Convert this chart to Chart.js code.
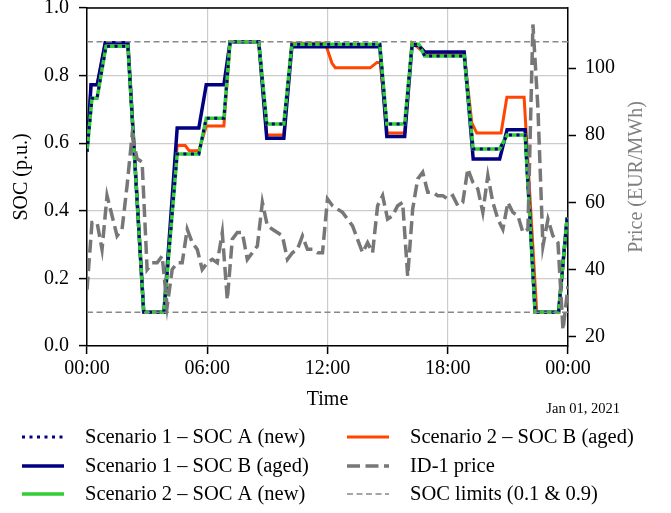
<!DOCTYPE html>
<html>
<head>
<meta charset="utf-8">
<script src="https://cdn.jsdelivr.net/npm/chart.js@4.4.0/dist/chart.umd.min.js"></script>
<style>
  body { margin: 0; background: #fff; }
  #wrap { position: relative; width: 671px; height: 513px; }
</style>
</head>
<body>
<div id="wrap"><canvas id="chart"></canvas></div>
<script>
const FONT = "'Liberation Serif', 'Times New Roman', serif";

// x axis is hours after midnight, Jan 01 2021
const xTickValues = [0, 6, 12, 18, 24];
const xTickLabels = ["00:00", "06:00", "12:00", "18:00", "00:00"];
const socTicks = [0, 0.2, 0.4, 0.6, 0.8, 1.0];
const priceTicks = [20, 40, 60, 80, 100];
const dateLabel = "Jan 01, 2021";

const socLimits = [0.1, 0.9];

// SOC A (new) - same path in scenario 1 and 2
const socATimes = [0, 0.25, 0.5, 0.95, 2.04, 2.83, 3.84, 4.5, 5.58, 5.95, 6.83, 7.14, 8.57, 8.97, 9.82, 10.22,
  14.61, 14.96, 15.85, 16.22, 16.55, 16.85, 18.82, 19.27, 20.59, 20.96, 21.86, 22.36, 23.53, 23.95, 24];
const socAValues = [0.575, 0.733, 0.733, 0.887, 0.887, 0.1, 0.1, 0.568, 0.568, 0.674, 0.674, 0.9, 0.9, 0.657, 0.657, 0.893,
  0.893, 0.657, 0.657, 0.893, 0.893, 0.858, 0.858, 0.583, 0.583, 0.624, 0.624, 0.1, 0.1, 0.375, 0.375];

// Scenario 1 - SOC B (aged)
const s1BTimes = [0, 0.2, 0.51, 0.91, 2.04, 2.83, 3.84, 4.5, 5.58, 5.95, 6.83, 7.14, 8.57, 8.97, 9.82, 10.22,
  14.61, 14.96, 15.85, 16.22, 16.55, 16.85, 18.82, 19.27, 20.59, 20.96, 21.86, 22.36, 23.53, 23.95, 24];
const s1BValues = [0.575, 0.773, 0.773, 0.897, 0.897, 0.1, 0.1, 0.645, 0.645, 0.773, 0.773, 0.9, 0.9, 0.615, 0.615, 0.885,
  0.885, 0.62, 0.62, 0.89, 0.89, 0.87, 0.87, 0.553, 0.553, 0.64, 0.64, 0.1, 0.1, 0.375, 0.375];

// Scenario 2 - SOC B (aged)
const s2BTimes = [0, 0.2, 0.51, 0.91, 2.04, 2.83, 3.84, 4.5, 4.9, 5.1, 5.58, 5.95, 6.83, 7.14, 8.57, 8.97, 9.82, 10.22,
  11.89, 12.22, 12.39, 14.13, 14.47, 14.63, 14.98, 15.85, 16.22, 16.9, 18.82, 19.2, 19.45, 20.66, 20.95, 21.81,
  22.44, 23.53, 23.95, 24];
const s2BValues = [0.575, 0.773, 0.773, 0.897, 0.897, 0.1, 0.1, 0.593, 0.593, 0.578, 0.578, 0.651, 0.651, 0.9, 0.9, 0.624, 0.624, 0.896,
  0.896, 0.837, 0.823, 0.823, 0.839, 0.839, 0.63, 0.63, 0.897, 0.865, 0.865, 0.66, 0.63, 0.63, 0.736, 0.736,
  0.1, 0.1, 0.375, 0.375];

// ID-1 price (EUR/MWh), quarter-hourly from 00:00 to 24:00
const priceStepHours = 0.25;
const priceValues = [34, 54, 54, 46, 62, 56, 50, 52, 65, 80,
  73, 72, 40, 42, 42, 44, 29, 40, 42, 42,
  52, 48, 46, 40, 42, 43, 42, 51, 31, 49,
  51, 51, 43, 45, 47, 60, 53, 52, 51, 50,
  43, 45, 46, 50, 46, 46, 45, 45, 61, 59,
  58, 57, 55, 53, 49, 45, 48, 45, 59, 62,
  55, 56, 59, 60, 38, 58, 67, 69, 63, 63,
  62, 62, 61, 62, 59, 60, 70, 66, 64, 57,
  68, 60, 55, 52, 60, 57, 56, 51, 52, 113,
  88, 47, 55, 50, 48, 22, 35];

function pts(times, values) {
  return times.map((t, i) => ({ x: t, y: values[i] }));
}

const priceData = priceValues.map((v, i) => ({ x: i * priceStepHours, y: v }));

const datasets = [
  { label: "ID-1 price", data: priceData, yAxisID: "y2",
    borderColor: "#777777", borderWidth: 3.5, borderDash: [13, 5.5] },
  { label: "SOC limits (0.1 & 0.9)", data: pts([0, 24], [socLimits[0], socLimits[0]]),
    borderColor: "#888888", borderWidth: 1.6, borderDash: [6, 3.5] },
  { label: "", data: pts([0, 24], [socLimits[1], socLimits[1]]),
    borderColor: "#888888", borderWidth: 1.6, borderDash: [6, 3.5] },
  { label: "Scenario 1 \u2013 SOC A (new)", data: pts(socATimes, socAValues),
    borderColor: "#000080", borderWidth: 3, borderDash: [3, 4.5] },
  { label: "Scenario 2 \u2013 SOC A (new)", data: pts(socATimes, socAValues),
    borderColor: "#32CD32", borderWidth: 3.5 },
  { label: "Scenario 1 \u2013 SOC B (aged)", data: pts(s1BTimes, s1BValues),
    borderColor: "#000080", borderWidth: 3.5 },
  { label: "Scenario 2 \u2013 SOC B (aged)", data: pts(s2BTimes, s2BValues),
    borderColor: "#FF4500", borderWidth: 3 },
];
datasets.forEach(d => { d.pointRadius = 0; d.tension = 0; d.fill = false; d.borderCapStyle = "butt"; });

// legend: left column then right column
const legendOrder = [3, 5, 4, 6, 0, 1];

const extras = {
  id: "extras",
  afterDatasetsDraw(chart) {
    const { ctx, chartArea: a } = chart;
    ctx.save();
    ctx.strokeStyle = "#000";
    ctx.lineWidth = 1.5;
    ctx.beginPath();
    ctx.moveTo(a.left, a.top);
    ctx.lineTo(a.right, a.top);
    ctx.stroke();
    ctx.restore();
  },
  afterDraw(chart) {
    const { ctx, chartArea: a } = chart;
    ctx.save();
    // right axis title, reads bottom to top
    ctx.translate(637, (a.top + a.bottom) / 2);
    ctx.rotate(-Math.PI / 2);
    ctx.fillStyle = "#808080";
    ctx.font = "20px " + FONT;
    ctx.textAlign = "center";
    ctx.textBaseline = "middle";
    ctx.fillText("Price (EUR/MWh)", 0, 0);
    ctx.restore();

    ctx.save();
    ctx.fillStyle = "#000";
    ctx.font = "14.5px " + FONT;
    ctx.textAlign = "right";
    ctx.textBaseline = "middle";
    ctx.fillText(dateLabel, 620, 409);

    ctx.font = "20.5px " + FONT;
    ctx.textAlign = "left";
    const colX = [22, 347];
    const rowY = [437, 466, 494];
    legendOrder.forEach((idx, n) => {
      const d = chart.data.datasets[idx];
      const x = colX[Math.floor(n / 3)];
      const y = rowY[n % 3];
      ctx.strokeStyle = d.borderColor;
      ctx.lineWidth = d.borderWidth;
      ctx.setLineDash(d.borderDash || []);
      ctx.beginPath();
      ctx.moveTo(x, y);
      ctx.lineTo(x + 42, y);
      ctx.stroke();
      ctx.setLineDash([]);
      ctx.fillStyle = "#000";
      ctx.fillText(d.label, x + 63, y + 1);
    });
    ctx.restore();
  }
};

const tickFont = { family: FONT, size: 20 };

function fixV(width) {
  return s => { s.width = width; s.paddingTop = 0; s.paddingBottom = 0; };
}

new Chart(document.getElementById("chart"), {
  type: "line",
  data: { datasets: datasets },
  options: {
    responsive: true,
    maintainAspectRatio: false,
    animation: false,
    layout: { padding: { top: 8, left: 0, right: 0, bottom: 101 } },
    plugins: { legend: { display: false }, tooltip: { enabled: false } },
    scales: {
      x: {
        type: "linear", min: 0, max: 24,
        afterBuildTicks: s => { s.ticks = xTickValues.map(v => ({ value: v })); },
        afterFit: s => { s.height = 66; s.paddingLeft = 0; s.paddingRight = 0; },
        ticks: {
          font: tickFont, color: "#000", padding: 3, maxRotation: 0,
          callback: (v, i) => xTickLabels[i]
        },
        grid: { color: "#cccccc", lineWidth: 1.2, tickColor: "#000", tickLength: 8, tickWidth: 1.5 },
        border: { color: "#000", width: 1.5 },
        title: { display: true, text: "Time", font: tickFont, color: "#000", padding: 0 }
      },
      y: {
        position: "left", min: 0, max: 1,
        afterBuildTicks: s => { s.ticks = socTicks.map(v => ({ value: v })); },
        afterFit: fixV(87),
        ticks: { font: tickFont, color: "#000", padding: 10, callback: v => v.toFixed(1) },
        grid: { color: "#cccccc", lineWidth: 1.2, tickColor: "#000", tickLength: 8, tickWidth: 1.5 },
        border: { color: "#000", width: 1.5 },
        title: { display: true, text: "SOC (p.u.)", font: tickFont, color: "#000", padding: { top: 10, bottom: 0 } }
      },
      y2: {
        position: "right", min: 17.2, max: 117.9,
        afterBuildTicks: s => { s.ticks = priceTicks.map(v => ({ value: v })); },
        afterFit: fixV(103),
        ticks: { font: tickFont, color: "#000", padding: 9 },
        grid: { drawOnChartArea: false, tickColor: "#000", tickLength: 8, tickWidth: 1.5 },
        border: { color: "#000", width: 1.5 }
      }
    }
  },
  plugins: [extras]
});
</script>
</body>
</html>
